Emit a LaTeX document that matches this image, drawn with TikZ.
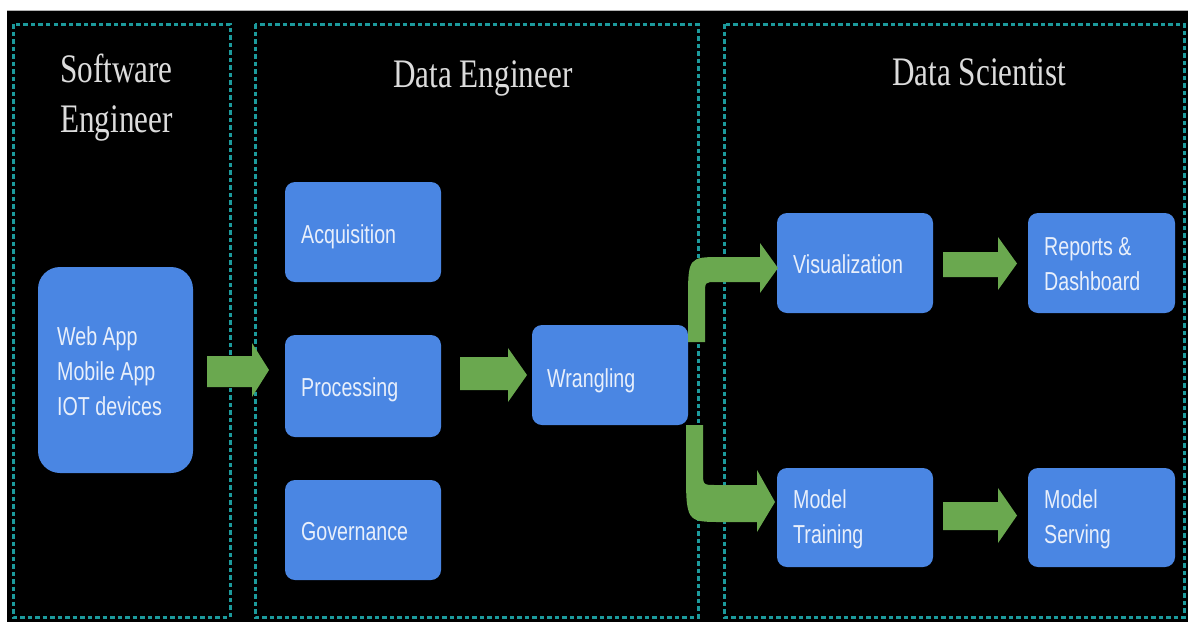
\documentclass[tikz,border=0pt]{standalone}
\usepackage{fontspec}
\usepackage{graphicx}
\setmainfont{Liberation Serif}
\setsansfont{Liberation Sans}
\definecolor{boxblue}{HTML}{4A86E3}
\definecolor{arrgreen}{HTML}{6AA84F}
\definecolor{dashteal}{HTML}{1C9A9C}
\definecolor{titlegray}{HTML}{DCDCDC}
\definecolor{boxtext}{HTML}{E8EFFB}
\newcommand\boxtxt[1]{\scalebox{0.755}[1]{\begin{tabular}[t]{@{}l@{}}#1\end{tabular}}}
\newcommand\ttltxt[1]{\scalebox{0.77}[1]{\begin{tabular}[t]{@{}l@{}}#1\end{tabular}}}
\newcommand\blockarrow[7]{\fill[arrgreen] (#1,#4) -- (#2,#4) -- (#2,#6) -- (#3,{(#6+#7)/2}) -- (#2,#7) -- (#2,#5) -- (#1,#5) -- cycle;}
\begin{document}
\begin{tikzpicture}[x=1pt,y=-1pt,
  lane/.style={draw=dashteal, line width=3pt, dash pattern=on 4.5pt off 3pt},
  box/.style={fill=boxblue, rounded corners=10pt, inner sep=0pt, outer sep=0pt, anchor=north west},
  lbl/.style={anchor=base west, inner sep=0pt, text=boxtext, font=\sffamily\fontsize{26}{35}\selectfont},
  ttl/.style={anchor=base west, inner sep=0pt, text=titlegray, font=\rmfamily\fontsize{40.5}{50}\selectfont}]
\useasboundingbox (0,0) rectangle (1188,622);
\fill[white] (0,0) rectangle (1188,622);
\fill[black] (7,10.5) rectangle (1188,622);
\draw[gray!60, line width=0.8pt] (7,10.5) -- (1188,10.5);
% lanes
\draw[lane] (13,24) rectangle (230,617);
\draw[lane] (255,24) rectangle (698,617);
\draw[lane] (724,24) rectangle (1184,617);
% titles
\node[ttl] (tSW) at (60,82) {\ttltxt{Software\\Engineer}};
\node[ttl] (tDE) at (393,87) {\ttltxt{Data Engineer}};
\node[ttl] (tDS) at (892,85) {\ttltxt{Data Scientist}};
% boxes
\node[box, rounded corners=22pt, minimum width=155pt, minimum height=206pt] (src) at (38,267) {};
\node[box, minimum width=156pt, minimum height=100pt] (acq) at (285,182) {};
\node[box, minimum width=156pt, minimum height=102pt] (proc) at (285,335) {};
\node[box, minimum width=156pt, minimum height=100pt] (gov) at (285,480) {};
\node[box, minimum width=156pt, minimum height=100pt] (wrang) at (532,325) {};
\node[box, minimum width=156pt, minimum height=100pt] (vis) at (777,213) {};
\node[box, minimum width=147pt, minimum height=100pt] (rep) at (1028,213) {};
\node[box, minimum width=156pt, minimum height=99pt] (mtr) at (777,468) {};
\node[box, minimum width=147pt, minimum height=99pt] (msv) at (1028,468) {};
% labels
\node[lbl] (srcT) at (57,345) {\boxtxt{Web App\\Mobile App\\IOT devices}};
\node[lbl] (acqT) at (301,243) {\boxtxt{Acquisition}};
\node[lbl] (procT) at (301,396) {\boxtxt{Processing}};
\node[lbl] (govT) at (301,540) {\boxtxt{Governance}};
\node[lbl] (wrangT) at (547,387) {\boxtxt{Wrangling}};
\node[lbl] (visT) at (793,273) {\boxtxt{Visualization}};
\node[lbl] (repT) at (1044,255) {\boxtxt{Reports \&\\Dashboard}};
\node[lbl] (mtrT) at (793,508) {\boxtxt{Model\\Training}};
\node[lbl] (msvT) at (1044,508) {\boxtxt{Model\\Serving}};
% straight block arrows
\blockarrow{207}{252}{269}{356}{387}{343}{397}
\blockarrow{460}{508}{527}{357}{390}{348}{402}
\blockarrow{943}{998}{1017}{252}{277}{237}{290}
\blockarrow{943}{998}{1017}{502}{530}{488}{543}
% bent arrows from Wrangling
\fill[arrgreen] (688,342) -- (688,302) .. controls (688,257) .. (722,257) -- (760,257) -- (760,243) -- (778,268) -- (760,293) -- (760,282) -- (716,282) .. controls (705,282) .. (705,294) -- (705,342) -- cycle;
\fill[arrgreen] (686,425) -- (686,468) .. controls (686,522) .. (722,522) -- (757,522) -- (757,532) -- (775,502) -- (757,470) -- (757,485) -- (716,485) .. controls (703,485) .. (703,472) -- (703,425) -- cycle;
\end{tikzpicture}
\end{document}
